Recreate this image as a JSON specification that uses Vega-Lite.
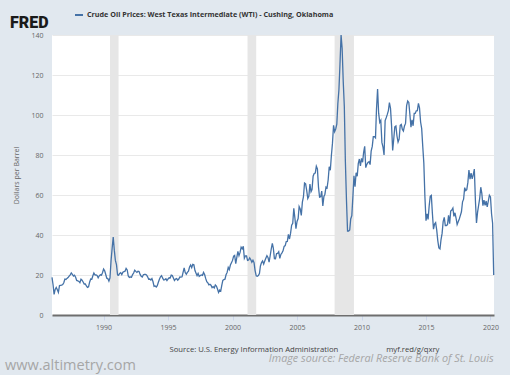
{
"$schema": "https://vega.github.io/schema/vega-lite/v6.json",
"width": 442, "height": 280,
"autosize": {"type": "none"},
"padding": {"left": 52, "top": 35, "right": 16, "bottom": 60},
"background": "#e1e8ef",
"datasets": {
"rec": [
{"date": "1990-07-01", "end": "1991-03-01"},
{"date": "2001-03-01", "end": "2001-11-01"},
{"date": "2007-12-01", "end": "2009-06-01"}
],
"wti": [
{"date":"1986-01-01","v":18.8},{"date":"1986-02-01","v":15.0},{"date":"1986-03-01","v":10.3},{"date":"1986-04-01","v":12.8},{"date":"1986-05-01","v":13.8},{"date":"1986-06-01","v":12.6},{"date":"1986-07-01","v":11.3},{"date":"1986-08-01","v":14.7},{"date":"1986-09-01","v":14.8},{"date":"1986-10-01","v":14.9},{"date":"1986-11-01","v":15.2},{"date":"1986-12-01","v":16.1},
{"date":"1987-01-01","v":18.0},{"date":"1987-02-01","v":17.8},{"date":"1987-03-01","v":18.3},{"date":"1987-04-01","v":18.7},{"date":"1987-05-01","v":19.4},{"date":"1987-06-01","v":20.1},{"date":"1987-07-01","v":21.0},{"date":"1987-08-01","v":20.3},{"date":"1987-09-01","v":19.5},{"date":"1987-10-01","v":19.9},{"date":"1987-11-01","v":18.9},{"date":"1987-12-01","v":17.3},
{"date":"1988-01-01","v":17.1},{"date":"1988-02-01","v":16.8},{"date":"1988-03-01","v":16.2},{"date":"1988-04-01","v":17.9},{"date":"1988-05-01","v":17.4},{"date":"1988-06-01","v":16.5},{"date":"1988-07-01","v":15.5},{"date":"1988-08-01","v":15.5},{"date":"1988-09-01","v":14.5},{"date":"1988-10-01","v":13.8},{"date":"1988-11-01","v":14.1},{"date":"1988-12-01","v":16.4},
{"date":"1989-01-01","v":18.0},{"date":"1989-02-01","v":17.9},{"date":"1989-03-01","v":19.5},{"date":"1989-04-01","v":21.0},{"date":"1989-05-01","v":20.1},{"date":"1989-06-01","v":20.0},{"date":"1989-07-01","v":19.8},{"date":"1989-08-01","v":18.6},{"date":"1989-09-01","v":19.6},{"date":"1989-10-01","v":20.1},{"date":"1989-11-01","v":19.9},{"date":"1989-12-01","v":21.1},
{"date":"1990-01-01","v":23.0},{"date":"1990-02-01","v":22.1},{"date":"1990-03-01","v":20.4},{"date":"1990-04-01","v":18.4},{"date":"1990-05-01","v":18.2},{"date":"1990-06-01","v":16.9},{"date":"1990-07-01","v":18.5},{"date":"1990-08-01","v":27.3},{"date":"1990-09-01","v":33.5},{"date":"1990-10-01","v":39.0},{"date":"1990-11-01","v":32.3},{"date":"1990-12-01","v":27.3},
{"date":"1991-01-01","v":25.2},{"date":"1991-02-01","v":20.0},{"date":"1991-03-01","v":19.9},{"date":"1991-04-01","v":20.8},{"date":"1991-05-01","v":21.2},{"date":"1991-06-01","v":20.2},{"date":"1991-07-01","v":21.4},{"date":"1991-08-01","v":21.7},{"date":"1991-09-01","v":21.9},{"date":"1991-10-01","v":23.3},{"date":"1991-11-01","v":22.5},{"date":"1991-12-01","v":19.5},
{"date":"1992-01-01","v":18.8},{"date":"1992-02-01","v":19.0},{"date":"1992-03-01","v":18.9},{"date":"1992-04-01","v":20.2},{"date":"1992-05-01","v":21.0},{"date":"1992-06-01","v":22.4},{"date":"1992-07-01","v":21.8},{"date":"1992-08-01","v":21.3},{"date":"1992-09-01","v":21.9},{"date":"1992-10-01","v":21.7},{"date":"1992-11-01","v":20.3},{"date":"1992-12-01","v":19.4},
{"date":"1993-01-01","v":19.0},{"date":"1993-02-01","v":20.1},{"date":"1993-03-01","v":20.3},{"date":"1993-04-01","v":20.3},{"date":"1993-05-01","v":20.0},{"date":"1993-06-01","v":19.1},{"date":"1993-07-01","v":17.9},{"date":"1993-08-01","v":18.0},{"date":"1993-09-01","v":17.5},{"date":"1993-10-01","v":18.2},{"date":"1993-11-01","v":16.6},{"date":"1993-12-01","v":14.3},
{"date":"1994-01-01","v":14.5},{"date":"1994-02-01","v":14.0},{"date":"1994-03-01","v":14.7},{"date":"1994-04-01","v":16.4},{"date":"1994-05-01","v":17.9},{"date":"1994-06-01","v":19.1},{"date":"1994-07-01","v":19.7},{"date":"1994-08-01","v":18.4},{"date":"1994-09-01","v":17.5},{"date":"1994-10-01","v":17.7},{"date":"1994-11-01","v":18.1},{"date":"1994-12-01","v":17.2},
{"date":"1995-01-01","v":18.0},{"date":"1995-02-01","v":18.6},{"date":"1995-03-01","v":18.5},{"date":"1995-04-01","v":19.9},{"date":"1995-05-01","v":19.7},{"date":"1995-06-01","v":18.5},{"date":"1995-07-01","v":17.3},{"date":"1995-08-01","v":18.0},{"date":"1995-09-01","v":18.2},{"date":"1995-10-01","v":17.4},{"date":"1995-11-01","v":18.0},{"date":"1995-12-01","v":19.0},
{"date":"1996-01-01","v":18.9},{"date":"1996-02-01","v":19.1},{"date":"1996-03-01","v":21.3},{"date":"1996-04-01","v":23.5},{"date":"1996-05-01","v":21.2},{"date":"1996-06-01","v":20.4},{"date":"1996-07-01","v":21.3},{"date":"1996-08-01","v":21.9},{"date":"1996-09-01","v":24.0},{"date":"1996-10-01","v":25.0},{"date":"1996-11-01","v":23.7},{"date":"1996-12-01","v":25.3},
{"date":"1997-01-01","v":25.1},{"date":"1997-02-01","v":22.2},{"date":"1997-03-01","v":21.0},{"date":"1997-04-01","v":19.7},{"date":"1997-05-01","v":20.8},{"date":"1997-06-01","v":19.3},{"date":"1997-07-01","v":19.7},{"date":"1997-08-01","v":20.0},{"date":"1997-09-01","v":19.8},{"date":"1997-10-01","v":21.3},{"date":"1997-11-01","v":20.2},{"date":"1997-12-01","v":18.3},
{"date":"1998-01-01","v":16.7},{"date":"1998-02-01","v":16.1},{"date":"1998-03-01","v":15.1},{"date":"1998-04-01","v":15.4},{"date":"1998-05-01","v":14.9},{"date":"1998-06-01","v":13.7},{"date":"1998-07-01","v":14.2},{"date":"1998-08-01","v":13.5},{"date":"1998-09-01","v":15.0},{"date":"1998-10-01","v":14.5},{"date":"1998-11-01","v":13.0},{"date":"1998-12-01","v":11.3},
{"date":"1999-01-01","v":12.5},{"date":"1999-02-01","v":12.0},{"date":"1999-03-01","v":14.7},{"date":"1999-04-01","v":17.3},{"date":"1999-05-01","v":17.7},{"date":"1999-06-01","v":17.9},{"date":"1999-07-01","v":20.1},{"date":"1999-08-01","v":21.3},{"date":"1999-09-01","v":23.8},{"date":"1999-10-01","v":22.7},{"date":"1999-11-01","v":25.0},{"date":"1999-12-01","v":26.1},
{"date":"2000-01-01","v":27.3},{"date":"2000-02-01","v":29.4},{"date":"2000-03-01","v":29.8},{"date":"2000-04-01","v":25.7},{"date":"2000-05-01","v":28.8},{"date":"2000-06-01","v":31.8},{"date":"2000-07-01","v":29.7},{"date":"2000-08-01","v":31.3},{"date":"2000-09-01","v":33.9},{"date":"2000-10-01","v":33.1},{"date":"2000-11-01","v":34.4},{"date":"2000-12-01","v":28.4},
{"date":"2001-01-01","v":29.6},{"date":"2001-02-01","v":29.6},{"date":"2001-03-01","v":27.3},{"date":"2001-04-01","v":27.5},{"date":"2001-05-01","v":28.6},{"date":"2001-06-01","v":27.6},{"date":"2001-07-01","v":26.4},{"date":"2001-08-01","v":27.4},{"date":"2001-09-01","v":26.2},{"date":"2001-10-01","v":22.2},{"date":"2001-11-01","v":19.6},{"date":"2001-12-01","v":19.4},
{"date":"2002-01-01","v":19.7},{"date":"2002-02-01","v":20.7},{"date":"2002-03-01","v":24.5},{"date":"2002-04-01","v":26.2},{"date":"2002-05-01","v":27.0},{"date":"2002-06-01","v":25.5},{"date":"2002-07-01","v":27.0},{"date":"2002-08-01","v":28.4},{"date":"2002-09-01","v":29.7},{"date":"2002-10-01","v":28.8},{"date":"2002-11-01","v":26.4},{"date":"2002-12-01","v":29.5},
{"date":"2003-01-01","v":33.0},{"date":"2003-02-01","v":35.8},{"date":"2003-03-01","v":33.5},{"date":"2003-04-01","v":28.2},{"date":"2003-05-01","v":28.1},{"date":"2003-06-01","v":30.7},{"date":"2003-07-01","v":30.8},{"date":"2003-08-01","v":31.6},{"date":"2003-09-01","v":28.3},{"date":"2003-10-01","v":30.3},{"date":"2003-11-01","v":31.1},{"date":"2003-12-01","v":32.1},
{"date":"2004-01-01","v":34.3},{"date":"2004-02-01","v":34.7},{"date":"2004-03-01","v":36.7},{"date":"2004-04-01","v":36.8},{"date":"2004-05-01","v":40.3},{"date":"2004-06-01","v":38.0},{"date":"2004-07-01","v":40.8},{"date":"2004-08-01","v":44.9},{"date":"2004-09-01","v":45.9},{"date":"2004-10-01","v":53.3},{"date":"2004-11-01","v":48.5},{"date":"2004-12-01","v":43.2},
{"date":"2005-01-01","v":46.8},{"date":"2005-02-01","v":48.2},{"date":"2005-03-01","v":54.2},{"date":"2005-04-01","v":53.0},{"date":"2005-05-01","v":49.8},{"date":"2005-06-01","v":56.4},{"date":"2005-07-01","v":59.0},{"date":"2005-08-01","v":66.0},{"date":"2005-09-01","v":65.6},{"date":"2005-10-01","v":62.3},{"date":"2005-11-01","v":58.3},{"date":"2005-12-01","v":59.4},
{"date":"2006-01-01","v":65.5},{"date":"2006-02-01","v":61.6},{"date":"2006-03-01","v":62.7},{"date":"2006-04-01","v":69.4},{"date":"2006-05-01","v":70.8},{"date":"2006-06-01","v":71.0},{"date":"2006-07-01","v":74.4},{"date":"2006-08-01","v":73.0},{"date":"2006-09-01","v":63.8},{"date":"2006-10-01","v":58.9},{"date":"2006-11-01","v":59.1},{"date":"2006-12-01","v":62.0},
{"date":"2007-01-01","v":54.5},{"date":"2007-02-01","v":59.3},{"date":"2007-03-01","v":60.4},{"date":"2007-04-01","v":64.0},{"date":"2007-05-01","v":63.5},{"date":"2007-06-01","v":67.5},{"date":"2007-07-01","v":74.1},{"date":"2007-08-01","v":72.4},{"date":"2007-09-01","v":79.9},{"date":"2007-10-01","v":85.8},{"date":"2007-11-01","v":94.8},{"date":"2007-12-01","v":91.7},
{"date":"2008-01-01","v":93.0},{"date":"2008-02-01","v":95.4},{"date":"2008-03-01","v":105.5},{"date":"2008-04-01","v":112.6},{"date":"2008-05-01","v":125.4},{"date":"2008-06-01","v":140.0},{"date":"2008-07-01","v":133.4},{"date":"2008-08-01","v":116.7},{"date":"2008-09-01","v":104.1},{"date":"2008-10-01","v":76.6},{"date":"2008-11-01","v":57.3},{"date":"2008-12-01","v":42.0},
{"date":"2009-01-01","v":42.0},{"date":"2009-02-01","v":42.5},{"date":"2009-03-01","v":48.0},{"date":"2009-04-01","v":49.7},{"date":"2009-05-01","v":59.0},{"date":"2009-06-01","v":69.6},{"date":"2009-07-01","v":64.2},{"date":"2009-08-01","v":71.1},{"date":"2009-09-01","v":69.4},{"date":"2009-10-01","v":75.7},{"date":"2009-11-01","v":78.0},{"date":"2009-12-01","v":74.5},
{"date":"2010-01-01","v":78.3},{"date":"2010-02-01","v":76.4},{"date":"2010-03-01","v":81.2},{"date":"2010-04-01","v":84.3},{"date":"2010-05-01","v":73.7},{"date":"2010-06-01","v":75.3},{"date":"2010-07-01","v":76.3},{"date":"2010-08-01","v":76.6},{"date":"2010-09-01","v":75.2},{"date":"2010-10-01","v":81.9},{"date":"2010-11-01","v":84.3},{"date":"2010-12-01","v":89.2},
{"date":"2011-01-01","v":89.2},{"date":"2011-02-01","v":88.6},{"date":"2011-03-01","v":102.9},{"date":"2011-04-01","v":113.0},{"date":"2011-05-01","v":100.9},{"date":"2011-06-01","v":96.3},{"date":"2011-07-01","v":97.3},{"date":"2011-08-01","v":86.3},{"date":"2011-09-01","v":84.0},{"date":"2011-10-01","v":80.0},{"date":"2011-11-01","v":97.2},{"date":"2011-12-01","v":98.6},
{"date":"2012-01-01","v":100.3},{"date":"2012-02-01","v":102.2},{"date":"2012-03-01","v":106.2},{"date":"2012-04-01","v":103.3},{"date":"2012-05-01","v":94.7},{"date":"2012-06-01","v":82.3},{"date":"2012-07-01","v":87.9},{"date":"2012-08-01","v":94.1},{"date":"2012-09-01","v":94.5},{"date":"2012-10-01","v":89.5},{"date":"2012-11-01","v":86.5},{"date":"2012-12-01","v":87.9},
{"date":"2013-01-01","v":94.8},{"date":"2013-02-01","v":95.3},{"date":"2013-03-01","v":92.9},{"date":"2013-04-01","v":92.0},{"date":"2013-05-01","v":94.5},{"date":"2013-06-01","v":95.8},{"date":"2013-07-01","v":104.7},{"date":"2013-08-01","v":107.0},{"date":"2013-09-01","v":106.3},{"date":"2013-10-01","v":100.5},{"date":"2013-11-01","v":93.9},{"date":"2013-12-01","v":97.6},
{"date":"2014-01-01","v":94.6},{"date":"2014-02-01","v":100.8},{"date":"2014-03-01","v":100.8},{"date":"2014-04-01","v":102.1},{"date":"2014-05-01","v":102.2},{"date":"2014-06-01","v":105.8},{"date":"2014-07-01","v":103.6},{"date":"2014-08-01","v":96.5},{"date":"2014-09-01","v":93.2},{"date":"2014-10-01","v":84.4},{"date":"2014-11-01","v":75.8},{"date":"2014-12-01","v":59.3},
{"date":"2015-01-01","v":47.2},{"date":"2015-02-01","v":50.6},{"date":"2015-03-01","v":47.8},{"date":"2015-04-01","v":54.5},{"date":"2015-05-01","v":59.3},{"date":"2015-06-01","v":59.8},{"date":"2015-07-01","v":50.9},{"date":"2015-08-01","v":42.9},{"date":"2015-09-01","v":45.5},{"date":"2015-10-01","v":46.2},{"date":"2015-11-01","v":42.4},{"date":"2015-12-01","v":37.2},
{"date":"2016-01-01","v":33.5},{"date":"2016-02-01","v":33.0},{"date":"2016-03-01","v":37.6},{"date":"2016-04-01","v":40.8},{"date":"2016-05-01","v":46.7},{"date":"2016-06-01","v":48.8},{"date":"2016-07-01","v":44.7},{"date":"2016-08-01","v":44.7},{"date":"2016-09-01","v":45.2},{"date":"2016-10-01","v":49.8},{"date":"2016-11-01","v":45.7},{"date":"2016-12-01","v":52.0},
{"date":"2017-01-01","v":52.5},{"date":"2017-02-01","v":53.5},{"date":"2017-03-01","v":49.3},{"date":"2017-04-01","v":51.1},{"date":"2017-05-01","v":48.5},{"date":"2017-06-01","v":45.2},{"date":"2017-07-01","v":46.6},{"date":"2017-08-01","v":48.0},{"date":"2017-09-01","v":49.8},{"date":"2017-10-01","v":51.6},{"date":"2017-11-01","v":56.6},{"date":"2017-12-01","v":57.9},
{"date":"2018-01-01","v":63.7},{"date":"2018-02-01","v":62.2},{"date":"2018-03-01","v":62.7},{"date":"2018-04-01","v":66.3},{"date":"2018-05-01","v":72.5},{"date":"2018-06-01","v":67.9},{"date":"2018-07-01","v":71.0},{"date":"2018-08-01","v":68.1},{"date":"2018-09-01","v":70.2},{"date":"2018-10-01","v":73.0},{"date":"2018-11-01","v":57.0},{"date":"2018-12-01","v":46.0},
{"date":"2019-01-01","v":51.4},{"date":"2019-02-01","v":55.0},{"date":"2019-03-01","v":58.2},{"date":"2019-04-01","v":63.9},{"date":"2019-05-01","v":60.8},{"date":"2019-06-01","v":54.7},{"date":"2019-07-01","v":57.4},{"date":"2019-08-01","v":54.8},{"date":"2019-09-01","v":57.0},{"date":"2019-10-01","v":54.0},{"date":"2019-11-01","v":57.0},{"date":"2019-12-01","v":59.9},
{"date":"2020-01-01","v":59.0},{"date":"2020-02-01","v":50.5},{"date":"2020-03-01","v":46.0},{"date":"2020-04-01","v":20.0}
]
},
"encoding": {
"x": {"field": "date", "type": "temporal",
 "scale": {"type": "utc", "domain": [{"year": 1986, "month": 1, "date": 1, "utc": true}, {"year": 2020, "month": 4, "date": 10, "utc": true}]},
 "axis": {"title": "Source: U.S. Energy Information Administration\u00a0\u00a0\u00a0\u00a0\u00a0\u00a0\u00a0\u00a0\u00a0\u00a0\u00a0\u00a0\u00a0\u00a0\u00a0\u00a0\u00a0\u00a0\u00a0\u00a0\u00a0\u00a0\u00a0\u00a0myf.red/g/qxry",
  "titleX": 117, "titleY": 34, "titleAlign": "left", "titleBaseline": "middle", "titleFontSize": 7.7, "titleFontWeight": "normal", "titleColor": "#444", "titleFont": "Open Sans",
  "values": [{"year": 1990, "utc": true}, {"year": 1995, "utc": true}, {"year": 2000, "utc": true}, {"year": 2005, "utc": true}, {"year": 2010, "utc": true}, {"year": 2015, "utc": true}, {"year": 2020, "utc": true}],
  "format": "%Y", "grid": false, "domainColor": "#6e6e6e", "domainWidth": 2, "tickColor": "#ccd6eb", "tickSize": 5, "labelFontSize": 7, "labelColor": "#666", "labelPadding": 3, "labelFont": "Open Sans"}}
},
"layer": [
{"data": {"name": "rec"}, "mark": {"type": "rect", "color": "#e6e6e6"},
 "encoding": {"x2": {"field": "end"}}},
{"data": {"name": "wti"}, "mark": {"type": "line", "strokeWidth": 1.3},
 "encoding": {
  "y": {"field": "v", "type": "quantitative", "scale": {"domain": [0, 140], "nice": false},
   "axis": {"title": "Dollars per Barrel", "titleX": -36, "titleY": 140, "titleAngle": -90, "titleAlign": "center", "titleBaseline": "middle", "titleFontSize": 7, "titleFontWeight": "normal", "titleColor": "#666", "titleFont": "Open Sans",
    "values": [0, 20, 40, 60, 80, 100, 120, 140], "labelOverlap": false, "ticks": false, "domain": false, "gridColor": "#e9e9e9", "labelFontSize": 7, "labelColor": "#666", "labelPadding": 9, "labelFont": "Open Sans"}},
  "color": {"datum": "Crude Oil Prices: West Texas Intermediate (WTI) - Cushing, Oklahoma", "type": "nominal",
   "scale": {"range": ["#4572a7"]},
   "legend": {"title": "FRED", "titleOrient": "left", "titleBaseline": "top", "titleFontSize": 16, "titleFont": "Roboto", "titleFontWeight": 900, "titleColor": "#1a1a1a", "titlePadding": 25,
    "orient": "none", "legendX": -42, "legendY": -25, "symbolType": "stroke", "symbolStrokeWidth": 2, "symbolSize": 64, "labelOffset": 3, "labelFontSize": 7.2, "labelFontWeight": "bold", "labelColor": "#333", "labelFont": "Open Sans", "labelLimit": 0, "padding": 0}},
  "opacity": {"datum": "Image source: Federal Reserve Bank of St. Louis", "type": "nominal", "scale": {"range": [1]},
   "legend": {"title": "www.altimetry.com", "titleOrient": "left", "titleFontSize": 14.5, "titleFont": "Open Sans", "titleFontWeight": "normal", "titleColor": "#a6a6a6", "titleBaseline": "top", "titlePadding": 121,
    "orient": "none", "legendX": -47, "legendY": 319, "symbolOpacity": 0, "symbolStrokeWidth": 0, "symbolFillColor": "transparent", "symbolStrokeColor": "transparent", "symbolSize": 1, "labelOffset": 1, "labelFontSize": 10.8, "labelFontStyle": "italic", "labelFont": "Open Sans", "labelColor": "#a6a6a6", "labelLimit": 0, "padding": 0}}
 }}
],
"config": {"view": {"fill": "white", "stroke": null}}
}
